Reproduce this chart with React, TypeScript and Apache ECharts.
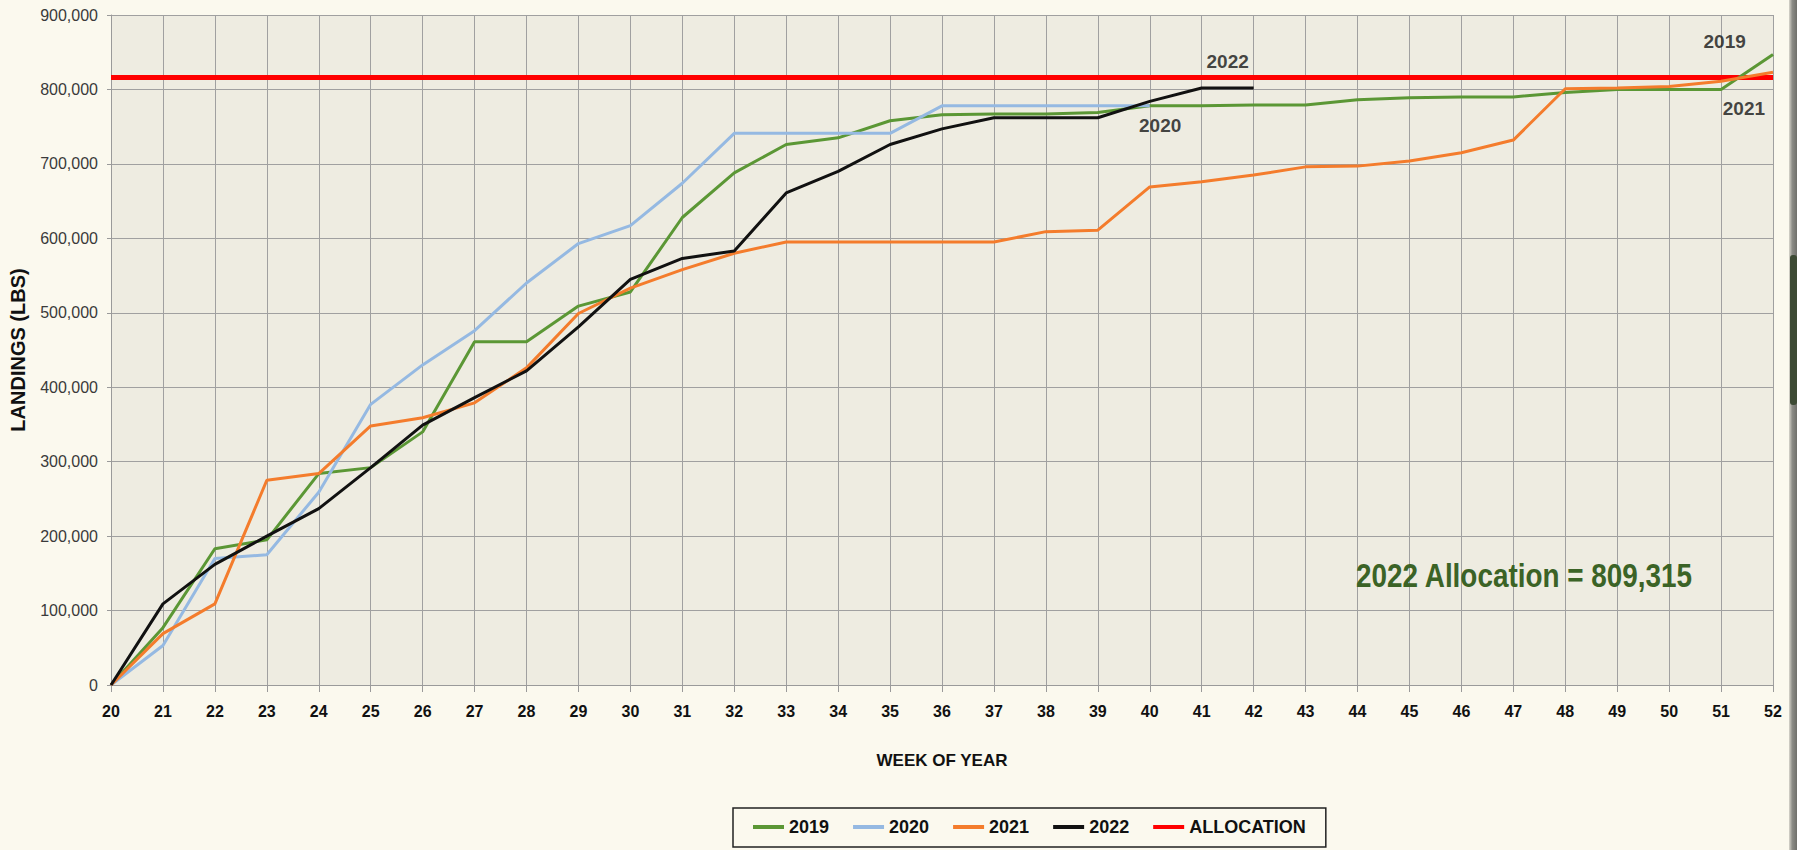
import React, { useEffect, useRef } from "react";
import * as echarts from "echarts";

const WEEK_START = 20;
const WEEK_END = 52;
const Y_TICKS_MAX = 900000;
const Y_INTERVAL = 100000;

const SERIES_NAMES = ["2019", "2020", "2021", "2022", "ALLOCATION"];

const landings2019 = [
  0, 77000, 183000, 195000, 284000, 292000, 340000, 461000, 461000, 509000,
  528000, 628000, 688000, 726000, 735000, 758000, 766000, 767000, 767000, 769000,
  778000, 778000, 779000, 779000, 786000, 789000, 790000, 790000, 796000, 800000,
  800000, 800000, 847000,
];
const landings2020 = [
  0, 53000, 170000, 175000, 259000, 377000, 430000, 476000, 540000, 593000,
  617000, 674000, 741000, 741000, 741000, 741000, 778000, 778000, 778000, 778000,
  778000,
];
const landings2021 = [
  0, 69000, 109000, 275000, 284000, 348000, 359000, 379000, 426000, 499000,
  533000, 558000, 580000, 595000, 595000, 595000, 595000, 595000, 609000, 611000,
  669000, 676000, 685000, 696000, 697000, 704000, 715000, 732000, 801000, 802000,
  804000, 811000, 823000,
];
const landings2022 = [
  0, 109000, 162000, 200000, 237000, 292000, 349000, 386000, 422000, 481000,
  545000, 573000, 583000, 661000, 690000, 726000, 747000, 762000, 762000, 762000,
  784000, 802000, 802000,
];
const allocationValue = 816000;

// end-of-line labels: [week, value, text]
const endLabels: [number, number, string][] = [
  [51.07, 865000, "2019"],
  [40.2, 752000, "2020"],
  [51.44, 775000, "2021"],
  [41.5, 838000, "2022"],
];
const annotationText = "2022 Allocation = 809,315";

const COLORS = ["#5b9735", "#95b9e2", "#f47c2c", "#111111", "#ff0000"];
const SANS = "'Liberation Sans', Arial, sans-serif";

const toPairs = (arr: number[]) => arr.map((v, i) => [WEEK_START + i, v]);

export default function App() {
  const ref = useRef<HTMLDivElement>(null);
  useEffect(() => {
    if (!ref.current) return;
    const chart = echarts.init(ref.current, undefined, { renderer: "svg" });
    const yearData = [landings2019, landings2020, landings2021, landings2022];
    const series: any[] = yearData.map((d, i) => ({
      name: SERIES_NAMES[i],
      type: "line",
      data: toPairs(d),
      showSymbol: false,
      symbol: "none",
      lineStyle: { color: COLORS[i], width: 3 },
      itemStyle: { color: COLORS[i] },
      z: 3 + i,
    }));
    series.push({
      name: "ALLOCATION",
      type: "line",
      data: [
        [WEEK_START, allocationValue],
        [WEEK_END, allocationValue],
      ],
      showSymbol: false,
      symbol: "none",
      lineStyle: { color: COLORS[4], width: 5 },
      itemStyle: { color: COLORS[4] },
      z: 2,
    });
    series.push({
      name: "labels",
      type: "scatter",
      data: endLabels.map((l) => ({ value: [l[0], l[1]], name: l[2] })),
      symbolSize: 0,
      itemStyle: { color: "transparent" },
      label: {
        show: true,
        position: "inside",
        formatter: "{b}",
        color: "#151515",
        fontFamily: SANS,
        fontWeight: "bold",
        fontSize: 19,
      },
      silent: true,
      z: 10,
    });

    chart.setOption({
      animation: false,
      backgroundColor: "#fbf9ee",
      grid: {
        left: 111,
        right: 24,
        top: 15,
        bottom: 165,
        show: true,
        backgroundColor: "#eeece1",
        borderWidth: 0,
        containLabel: false,
        outerBoundsMode: "none",
      },
      legend: {
        data: SERIES_NAMES.map((n) => ({ name: n, icon: "rect" })),
        left: 733,
        top: 808,
        padding: [10, 20, 11, 20],
        itemGap: 24,
        itemWidth: 31,
        itemHeight: 4,
        borderColor: "#222",
        borderWidth: 1.5,
        textStyle: {
          fontFamily: SANS,
          fontWeight: "bold",
          fontSize: 18,
          color: "#111",
        },
      },
      xAxis: {
        type: "value",
        min: WEEK_START,
        max: WEEK_END,
        interval: 1,
        name: "WEEK OF YEAR",
        nameLocation: "middle",
        nameGap: 67,
        nameTextStyle: {
          fontFamily: SANS,
          fontWeight: "bold",
          fontSize: 17,
          color: "#111",
        },
        axisLine: { show: true, lineStyle: { color: "#9a9a9a", width: 1 } },
        axisTick: { show: true, length: 7, lineStyle: { color: "#9a9a9a" } },
        axisLabel: {
          margin: 18,
          fontFamily: SANS,
          fontWeight: "bold",
          fontSize: 16,
          color: "#111",
        },
        splitLine: { show: true, lineStyle: { color: "#a0a0a0", width: 1 } },
      },
      yAxis: {
        type: "value",
        min: 0,
        max: Y_TICKS_MAX,
        interval: Y_INTERVAL,
        name: "LANDINGS (LBS)",
        nameLocation: "middle",
        nameGap: 83,
        nameRotate: 90,
        nameTextStyle: {
          fontFamily: SANS,
          fontWeight: "bold",
          fontSize: 20,
          color: "#111",
        },
        axisLine: { show: true, lineStyle: { color: "#9a9a9a", width: 1 } },
        axisTick: { show: true, length: 4, lineStyle: { color: "#9a9a9a" } },
        axisLabel: {
          margin: 13,
          fontFamily: SANS,
          fontSize: 16,
          color: "#3a3a3a",
          formatter: (v: number) => v.toLocaleString("en-US"),
        },
        splitLine: { show: true, lineStyle: { color: "#a0a0a0", width: 1 } },
      },
      graphic: [
        {
          type: "text",
          x: 1524,
          y: 576,
          scaleX: 0.82,
          z: 20,
          style: {
            text: annotationText,
            fill: "#3b6326",
            font: `bold 34px ${SANS}`,
            align: "center",
            verticalAlign: "middle",
          },
        },
        {
          type: "rect",
          shape: { x: 1789, y: 0, width: 8, height: 850 },
          style: {
            fill: new echarts.graphic.LinearGradient(0, 0, 1, 0, [
              { offset: 0, color: "#d8d6cc" },
              { offset: 0.4, color: "#8c8c86" },
              { offset: 1, color: "#6f6f6a" },
            ]),
          },
          z: 20,
        },
        {
          type: "rect",
          shape: { x: 1790, y: 255, width: 7, height: 150, r: 3 },
          style: { fill: "#3d4a34" },
          z: 21,
        },
      ],
      series,
    });
    return () => chart.dispose();
  }, []);
  return (
    <div
      ref={ref}
      style={{ position: "fixed", left: 0, top: 0, width: 1797, height: 850 }}
    />
  );
}
